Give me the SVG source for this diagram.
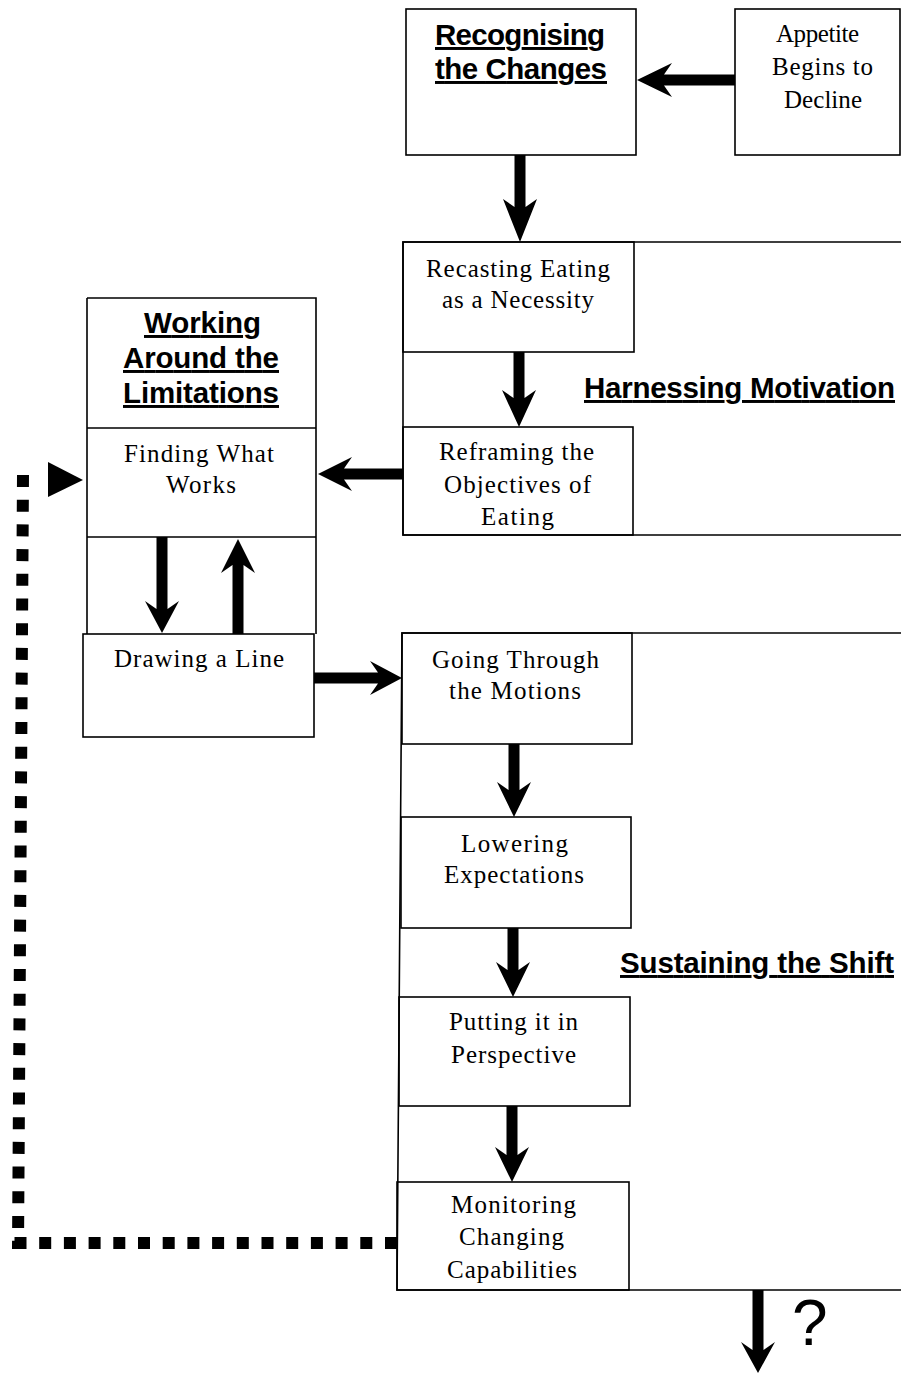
<svg xmlns="http://www.w3.org/2000/svg" width="901" height="1374" viewBox="0 0 901 1374">
<style>
.box{fill:none;stroke:#000;stroke-width:1.6}
.lbl{font-family:"Liberation Serif","Times New Roman",serif;font-size:25px;fill:#000}
.hd{font-family:"Liberation Sans",Arial,sans-serif;font-weight:bold;font-size:29.5px;fill:#000;text-decoration:underline}
.arr{fill:#000;stroke:none}
.dot{fill:none;stroke:#000;stroke-width:12;stroke-dasharray:12 12.7}
</style>
<rect width="901" height="1374" fill="#fff"/>
<g id="recognising">
<rect class="box" x="406" y="9" width="230" height="146"/>
<text class="hd" x="435" y="45" textLength="170">Recognising</text>
<text class="hd" x="435" y="79" textLength="172">the Changes</text>
</g>
<g id="appetite">
<rect class="box" x="735" y="9" width="165" height="146"/>
<text class="lbl" x="776" y="42" textLength="83">Appetite</text>
<text class="lbl" x="772" y="75" textLength="101">Begins to</text>
<text class="lbl" x="784" y="108" textLength="78">Decline</text>
</g>
<g id="harnessing">
<path class="box" d="M901 242 H403 V535 H901"/>
<text class="hd" x="584" y="398" textLength="311">Harnessing Motivation</text>
</g>
<g id="recasting">
<rect class="box" x="403" y="242" width="231" height="110"/>
<text class="lbl" x="426" y="277" textLength="184">Recasting Eating</text>
<text class="lbl" x="442" y="308" textLength="152">as a Necessity</text>
</g>
<g id="reframing">
<rect class="box" x="403" y="427" width="230" height="108"/>
<text class="lbl" x="439" y="460" textLength="155">Reframing the</text>
<text class="lbl" x="444" y="493" textLength="147">Objectives of</text>
<text class="lbl" x="481" y="525" textLength="73">Eating</text>
</g>
<g id="working">
<path class="box" d="M87 298 H316 V634 M87 298 V634 M87 428 H316 M87 537 H316"/>
<text class="hd" x="144" y="333" textLength="117">Working</text>
<text class="hd" x="123" y="368" textLength="156">Around the</text>
<text class="hd" x="123" y="403" textLength="156">Limitations</text>
<text class="lbl" x="124" y="462" textLength="150">Finding What</text>
<text class="lbl" x="166" y="493" textLength="70">Works</text>
</g>
<g id="drawing">
<rect class="box" x="83" y="634" width="231" height="103"/>
<text class="lbl" x="114" y="667" textLength="170">Drawing a Line</text>
</g>
<g id="sustaining">
<path class="box" d="M901 633 H402 L397 1290 H901"/>
<text class="hd" x="620" y="973" textLength="274">Sustaining the Shift</text>
</g>
<g id="going">
<rect class="box" x="402" y="633" width="230" height="111"/>
<text class="lbl" x="432" y="668" textLength="167">Going Through</text>
<text class="lbl" x="449" y="699" textLength="132">the Motions</text>
</g>
<g id="lowering">
<rect class="box" x="401" y="817" width="230" height="111"/>
<text class="lbl" x="461" y="852" textLength="107">Lowering</text>
<text class="lbl" x="444" y="883" textLength="140">Expectations</text>
</g>
<g id="putting">
<rect class="box" x="399" y="997" width="231" height="109"/>
<text class="lbl" x="449" y="1030" textLength="129">Putting it in</text>
<text class="lbl" x="451" y="1063" textLength="125">Perspective</text>
</g>
<g id="monitoring">
<rect class="box" x="397" y="1182" width="232" height="108"/>
<text class="lbl" x="451" y="1213" textLength="125">Monitoring</text>
<text class="lbl" x="459" y="1245" textLength="105">Changing</text>
<text class="lbl" x="447" y="1278" textLength="130">Capabilities</text>
</g>
<g id="connectors">
<polygon class="arr" points="735,74.5 735,85.5 664,85.5 672,97 637,80 672,63 664,74.5"/>
<polygon class="arr" points="514.5,155 525.5,155 525.5,207 537,199 520,242 503,199 514.5,207"/>
<polygon class="arr" points="513.5,352 524.5,352 524.5,398 536,390 519,427 502,390 513.5,398"/>
<polygon class="arr" points="403,468.5 403,479.5 344,479.5 352,491 318,474 352,457 344,468.5"/>
<polygon class="arr" points="156.5,537 167.5,537 167.5,609 179,601 162,633 145,601 156.5,609"/>
<polygon class="arr" points="232.5,634 243.5,634 243.5,565 255,573 238,539 221,573 232.5,565"/>
<polygon class="arr" points="314,672.5 314,683.5 378,683.5 370,695 402,678 370,661 378,672.5"/>
<polygon class="arr" points="508.5,744 519.5,744 519.5,790 531,782 514,817 497,782 508.5,790"/>
<polygon class="arr" points="507.5,928 518.5,928 518.5,970 530,962 513,997 496,962 507.5,970"/>
<polygon class="arr" points="506.5,1106 517.5,1106 517.5,1155 529,1147 512,1182 495,1147 506.5,1155"/>
<polygon class="arr" points="752.5,1290 763.5,1290 763.5,1350 775,1342 758,1373 741,1342 752.5,1350"/>
<path class="dot" d="M397 1243 H12"/>
<path class="dot" d="M23 475 L18 1249"/>
<polygon class="arr" points="48,462 83,480 48,497"/>
<text x="792" y="1345" font-family="'Liberation Sans',Arial,sans-serif" font-size="64" fill="#000">?</text>
</g>
</svg>
